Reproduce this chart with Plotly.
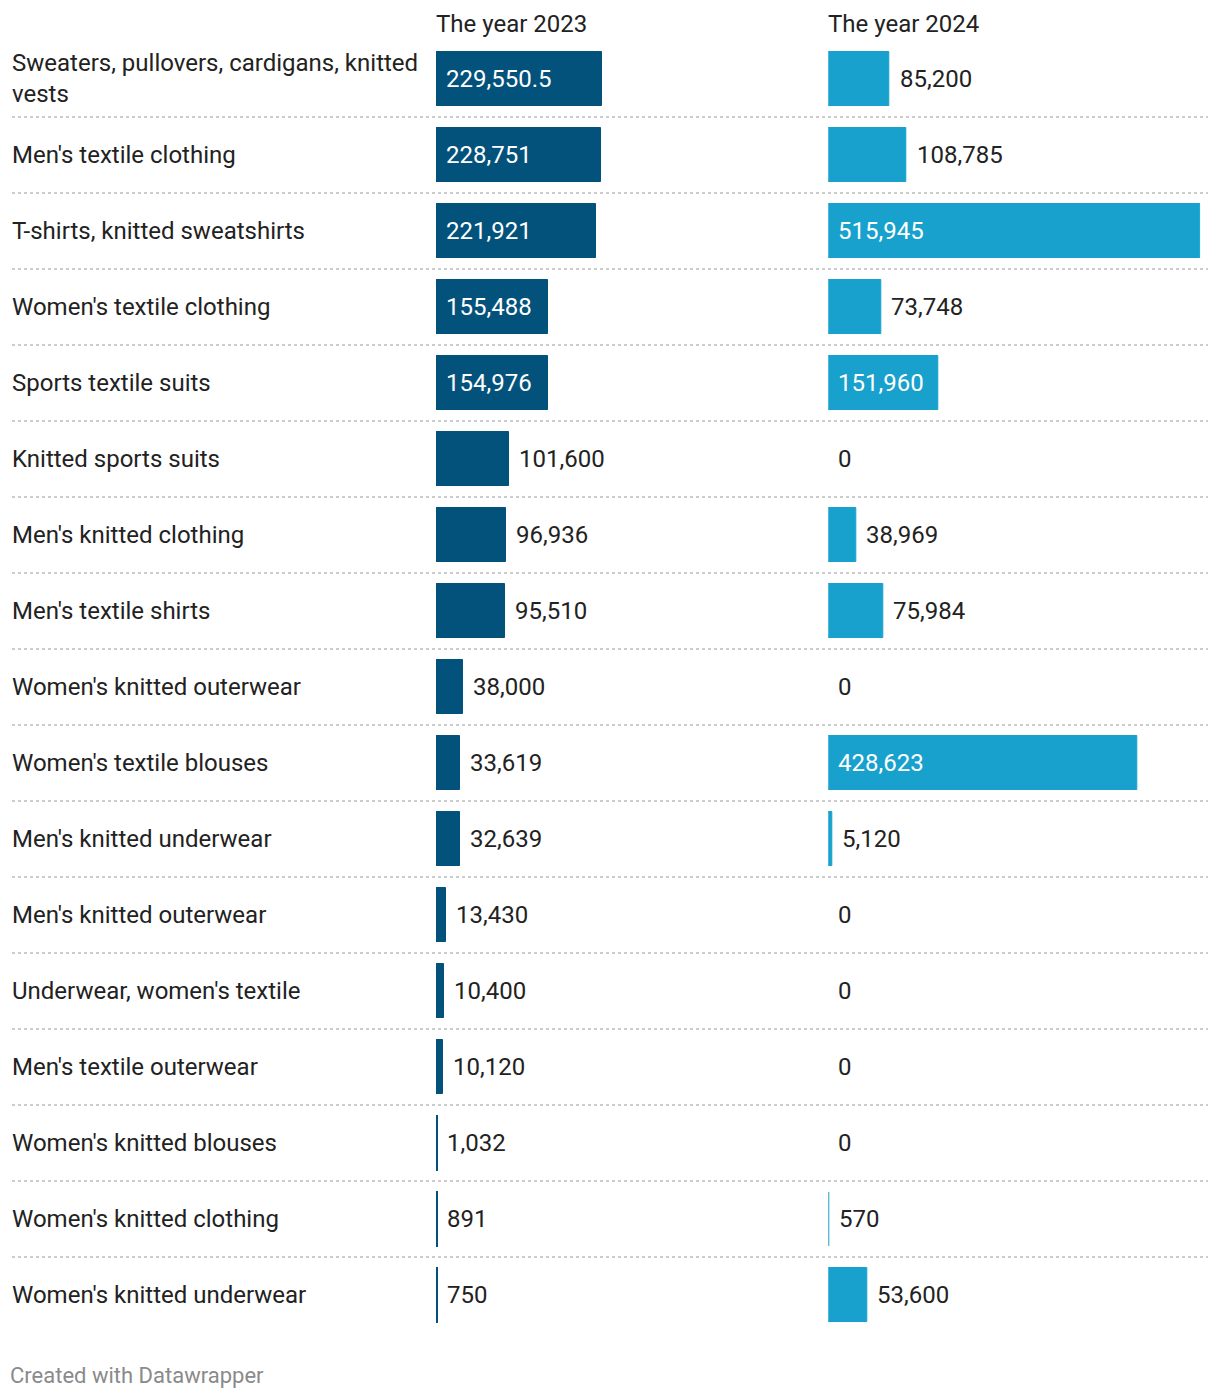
import plotly.graph_objects as go

categories = [
    "Sweaters, pullovers, cardigans, knitted<br>vests",
    "Men's textile clothing",
    "T-shirts, knitted sweatshirts",
    "Women's textile clothing",
    "Sports textile suits",
    "Knitted sports suits",
    "Men's knitted clothing",
    "Men's textile shirts",
    "Women's knitted outerwear",
    "Women's textile blouses",
    "Men's knitted underwear",
    "Men's knitted outerwear",
    "Underwear, women's textile",
    "Men's textile outerwear",
    "Women's knitted blouses",
    "Women's knitted clothing",
    "Women's knitted underwear",
]
values_2023 = [229550.5, 228751, 221921, 155488, 154976, 101600, 96936, 95510,
               38000, 33619, 32639, 13430, 10400, 10120, 1032, 891, 750]
values_2024 = [85200, 108785, 515945, 73748, 151960, 0, 38969, 75984,
               0, 428623, 5120, 0, 0, 0, 0, 570, 53600]
labels_2023 = ["229,550.5", "228,751", "221,921", "155,488", "154,976", "101,600",
               "96,936", "95,510", "38,000", "33,619", "32,639", "13,430", "10,400",
               "10,120", "1,032", "891", "750"]
labels_2024 = ["85,200", "108,785", "515,945", "73,748", "151,960", "0", "38,969",
               "75,984", "0", "428,623", "5,120", "0", "0", "0", "0", "570", "53,600"]
headers = ["The year 2023", "The year 2024"]

OFF = 8  # default page body margin
W, H = 1220 - 2 * OFF, 1398 - 2 * OFF
FONT = "Roboto"
DARK = "#03527b"
LIGHT = "#18a1cd"
TEXT = "#222222"
XMAX = 515945
INSIDE_MIN = 140000


def px(x):
    return (x - OFF) / W


def py(y):
    return 1 - (y - OFF) / H


n = len(categories)
ys = list(range(n))

fig = go.Figure()
for vals, color, xa in [(values_2023, DARK, "x"), (values_2024, LIGHT, "x2")]:
    fig.add_trace(go.Bar(
        x=vals, y=ys, orientation="h", xaxis=xa, yaxis="y",
        marker=dict(color=color, line=dict(color=color, width=[2 if 0 < v < 2000 else (1 if v > 0 else 0) for v in vals])),
        width=54 / 76, hoverinfo="skip", showlegend=False,
    ))

annotations = []
for vals, labs, xref in [(values_2023, labels_2023, "x"), (values_2024, labels_2024, "x2")]:
    for i, (v, t) in enumerate(zip(vals, labs)):
        inside = v >= INSIDE_MIN
        annotations.append(dict(
            x=0 if inside else v, y=i, xref=xref, yref="y", text=t, showarrow=False,
            xanchor="left", xshift=8,
            font=dict(family=FONT, size=24, color="white" if inside else TEXT),
        ))

for i, c in enumerate(categories):
    annotations.append(dict(
        x=px(10), y=i, xref="paper", yref="y", text=c, showarrow=False,
        xanchor="left", align="left",
        font=dict(family=FONT, size=24, color=TEXT),
    ))

for h, x0 in zip(headers, [434, 826]):
    annotations.append(dict(
        x=px(x0), y=py(24), xref="paper", yref="paper", text=h, showarrow=False,
        xanchor="left", yanchor="middle", font=dict(family=FONT, size=24, color=TEXT),
    ))

annotations.append(dict(
    x=px(8), y=py(1375), xref="paper", yref="paper", text="Created with Datawrapper",
    showarrow=False, xanchor="left", yanchor="middle",
    font=dict(family=FONT, size=22, color="#8a8a8a"),
))

shapes = []
for i in range(n - 1):
    shapes.append(dict(
        type="line", xref="paper", yref="y", x0=px(12), x1=px(1208), y0=i + 0.5, y1=i + 0.5,
        line=dict(color="#cccccc", width=2, dash="dot"),
    ))

fig.update_layout(
    width=W, height=H, margin=dict(l=0, r=0, t=0, b=0),
    paper_bgcolor="white", plot_bgcolor="white",
    xaxis=dict(domain=[px(436), px(808)], range=[0, XMAX], visible=False, fixedrange=True),
    xaxis2=dict(domain=[px(828.3), px(1200.3)], range=[0, XMAX], visible=False, fixedrange=True),
    yaxis=dict(domain=[py(1333), py(41)], range=[n - 0.5, -0.5], visible=False, fixedrange=True),
    annotations=annotations, shapes=shapes, bargap=0,
)

fig.write_html("out.html")
